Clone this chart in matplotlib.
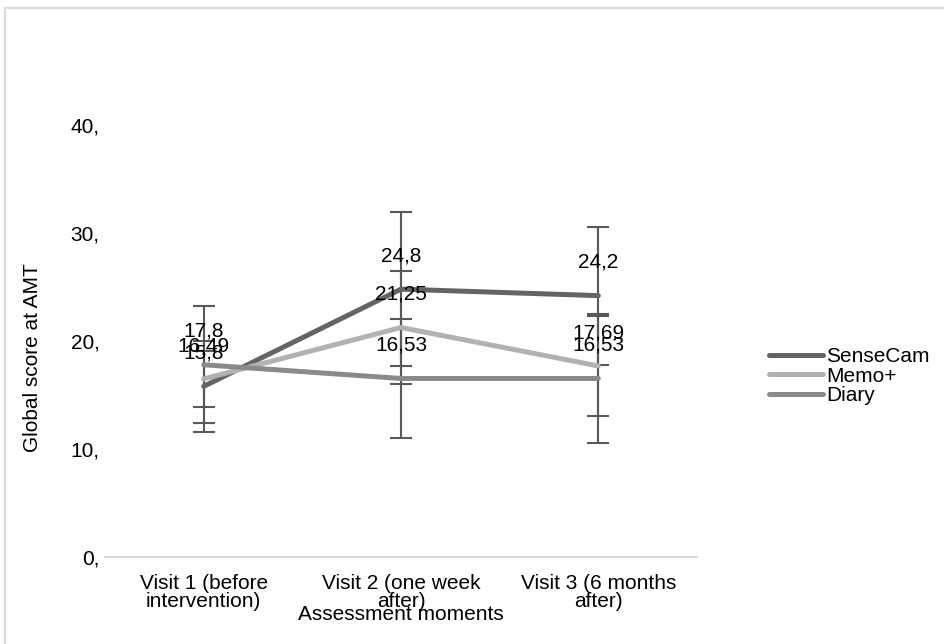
import matplotlib
matplotlib.use("Agg")
import matplotlib.pyplot as plt

plt.rcParams['font.family'] = ['Liberation Sans', 'DejaVu Sans']

visits = ["Visit 1 (before\nintervention)", "Visit 2 (one week\nafter)", "Visit 3 (6 months\nafter)"]
series = ["SenseCam", "Memo+", "Diary"]
sensecam = [15.8, 24.8, 24.2]
memo = [16.49, 21.25, 17.69]
diary = [17.8, 16.53, 16.53]
# error bar half widths, read from caps
sensecam_err = [4.2, 7.1, 6.4]
memo_err = [2.6, 5.25, 4.6]
diary_err = [5.4, 5.5, 6.0]
yticks = [0, 10, 20, 30, 40]
ytick_labels = ["0,", "10,", "20,", "30,", "40,"]

colors = ["#646464", "#b2b2b2", "#8a8a8a"]
fs = 15

W, H = 944, 644
fig = plt.figure(figsize=(W / 100, H / 100), dpi=100)
# light border of the chart area
fig.patches.append(plt.Rectangle((5 / W, -0.01), 1.0, 1 - 8 / H + 0.01, transform=fig.transFigure,
                                 fill=False, edgecolor="#d9d9d9", linewidth=1.5))

ax = fig.add_axes([105 / W, (H - 557) / H, (697 - 105) / W, (557 - 125) / H])
x = [0.5, 1.5, 2.5]
data = [sensecam, memo, diary]
errs = [sensecam_err, memo_err, diary_err]
for vals, c, name in zip(data, colors, series):
    ax.plot(x, vals, color=c, lw=3.6, solid_capstyle="round", label=name, zorder=3)
for vals, err in zip(data, errs):
    ax.errorbar(x, vals, yerr=err, fmt="none", ecolor="#595959", elinewidth=1.5,
                capsize=8, capthick=1.5, zorder=2)
for vals in data:
    for xi, v in zip(x, vals):
        ax.annotate(f"{v:g}".replace(".", ","), (xi, v), xytext=(0, 24), textcoords="offset points",
                    ha="center", va="center", fontsize=fs, zorder=5)

ax.set_xlim(0, 3)
ax.set_ylim(0, 40)
ax.set_xticks(x)
ax.set_xticklabels(visits, fontsize=fs, linespacing=0.95)
ax.set_yticks(yticks)
ax.set_yticklabels(ytick_labels, fontsize=fs)
ax.tick_params(axis="y", length=0, pad=4)
ax.tick_params(axis="x", length=0, pad=12)
for s in ["top", "right", "left"]:
    ax.spines[s].set_visible(False)
ax.spines["bottom"].set_color("#d9d9d9")
ax.spines["bottom"].set_linewidth(1.5)
ax.set_xlabel("Assessment moments", fontsize=fs, va="center")
ax.xaxis.set_label_coords(0.5, (557 - 614) / 432)
ax.set_ylabel("Global score at AMT", fontsize=fs, va="center")
ax.yaxis.set_label_coords((33 - 105) / 592, (557 - 358) / 432)

ax.legend(loc="center left", bbox_to_anchor=(769 / W, 1 - 376 / H), bbox_transform=fig.transFigure,
          frameon=False, fontsize=fs, handlelength=2.6, handletextpad=0.15, labelspacing=0.02,
          borderpad=0, borderaxespad=0)

fig.savefig("out.png", dpi=100)
